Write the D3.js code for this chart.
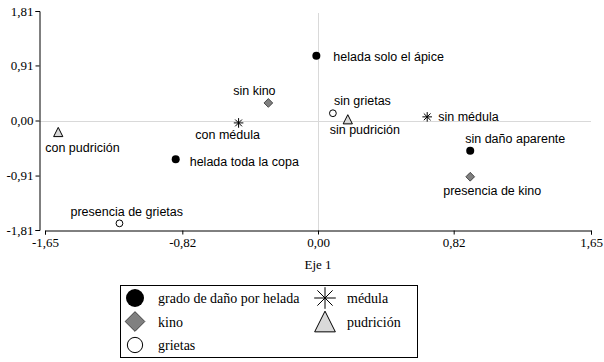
<!DOCTYPE html>
<html>
<head>
<meta charset="utf-8">
<script src="https://cdnjs.cloudflare.com/ajax/libs/d3/7.8.5/d3.min.js"></script>
<style>
  body { margin: 0; background: #fff; }
  .tick text { font-family: "Liberation Serif", "Times New Roman", serif; font-size: 13px; fill: #000; }
  .lbl { font-family: "Liberation Sans", Arial, sans-serif; font-size: 12.5px; fill: #000; }
  .ttl { font-family: "Liberation Serif", "Times New Roman", serif; font-size: 13px; fill: #000; }
  .leg { font-family: "Liberation Serif", "Times New Roman", serif; font-size: 14px; fill: #000; }
</style>
</head>
<body>
<div class="box"></div>
<script>
// Data
const etiquetas = ["helada solo el ápice", "sin kino", "con médula", "sin grietas", "sin pudrición",
                   "sin médula", "sin daño aparente", "presencia de kino", "con pudrición",
                   "helada toda la copa", "presencia de grietas"];
const eje1 = [-0.01, -0.30, -0.48, 0.09, 0.18, 0.66, 0.92, 0.92, -1.57, -0.86, -1.20];
const eje2 = [1.07, 0.29, -0.04, 0.12, 0.02, 0.06, -0.50, -0.93, -0.19, -0.64, -1.70];
const grupo = ["helada", "kino", "medula", "grietas", "pudricion",
               "medula", "helada", "kino", "pudricion", "helada", "grietas"];
const xTicks = [-1.65, -0.82, 0, 0.82, 1.65];
const yTicks = [-1.81, -0.91, 0, 0.91, 1.81];
const grupos = ["helada", "kino", "grietas", "medula", "pudricion"];
const gruposNombre = ["grado de daño por helada", "kino", "grietas", "médula", "pudrición"];

// label placement (pixels relative to the point)
const labelDx = [17, -14, -11, 1, 17, 11, -5, -27, -13, 14, -49];
const labelDy = [5, -8, 16, -8, 15, 4, -8, 18, 20, 7, -7];
const labelAnchor = ["start", "middle", "middle", "start", "middle", "start", "start", "start", "start", "start", "start"];

const w = 604, h = 362;
const svg = d3.select(".box").append("svg").attr("width", w).attr("height", h);

const xScale = d3.scaleLinear().domain([-1.65, 1.65]).range([45, 591]);
const yScale = d3.scaleLinear().domain([-1.81, 1.81]).range([230, 11]);

const loc = d3.formatLocale({decimal: ",", thousands: ".", grouping: [3], currency: ["", ""], minus: "-"});
const fmt = loc.format(".2f");

// grid lines at zero
svg.append("line").attr("x1", 39).attr("x2", 591)
  .attr("y1", Math.round(yScale(0)) + 0.5).attr("y2", Math.round(yScale(0)) + 0.5)
  .attr("stroke", "#d9d9d9");
svg.append("line").attr("x1", Math.round(xScale(0)) + 0.5).attr("x2", Math.round(xScale(0)) + 0.5)
  .attr("y1", 13).attr("y2", 230).attr("stroke", "#d9d9d9");

// axes
const xAxis = d3.axisBottom(xScale).tickValues(xTicks).tickFormat(fmt).tickSizeOuter(0).tickSize(4).tickPadding(3);
const yAxis = d3.axisLeft(yScale).tickValues(yTicks).tickFormat(fmt).tickSizeOuter(0).tickSize(4).tickPadding(2);

svg.append("g").attr("transform", "translate(0,230.5)").call(xAxis)
  .call(g => g.select(".domain").attr("stroke", "#000"));
svg.append("g").attr("transform", "translate(39.5,0)").call(yAxis)
  .call(g => g.select(".domain").attr("stroke", "#000"));

svg.append("text").attr("class", "ttl").attr("x", 318).attr("y", 269)
  .attr("text-anchor", "middle").text("Eje 1");

// marker drawing
function drawMarker(g, tipo, s) {
  if (tipo === "helada") {
    g.append("circle").attr("r", s).attr("fill", "#000");
  } else if (tipo === "grietas") {
    g.append("circle").attr("r", s * 0.85).attr("fill", "#fff").attr("stroke", "#000");
  } else if (tipo === "kino") {
    const d = s * 1.1;
    g.append("path").attr("d", `M0,${-d}L${d},0L0,${d}L${-d},0Z`)
      .attr("fill", "#808080").attr("stroke", "#000").attr("stroke-width", 0.6);
  } else if (tipo === "pudricion") {
    const d = s * 1.15;
    g.append("path").attr("d", `M0,${-d}L${d},${d}L${-d},${d}Z`)
      .attr("fill", "#d9d9d9").attr("stroke", "#000").attr("stroke-width", 1);
  } else if (tipo === "medula") {
    const d = s * 1.2;
    [0, 45, 90, 135].forEach(a => {
      const r = a * Math.PI / 180;
      g.append("line").attr("x1", -d * Math.cos(r)).attr("y1", -d * Math.sin(r))
        .attr("x2", d * Math.cos(r)).attr("y2", d * Math.sin(r))
        .attr("stroke", "#000").attr("stroke-width", 1);
    });
  }
}

// points
const pts = svg.selectAll("g.pt").data(etiquetas).enter().append("g")
  .attr("class", "pt")
  .attr("transform", (d, i) => `translate(${xScale(eje1[i])},${yScale(eje2[i])})`);
pts.each(function(d, i) { drawMarker(d3.select(this), grupo[i], 4); });
pts.append("text").attr("class", "lbl")
  .attr("x", (d, i) => labelDx[i]).attr("y", (d, i) => labelDy[i])
  .attr("text-anchor", (d, i) => labelAnchor[i])
  .text(d => d);

// legend
const legend = svg.append("g").attr("id", "legend");
legend.append("rect").attr("x", 120.5).attr("y", 285.5).attr("width", 297).attr("height", 72)
  .attr("fill", "#fff").attr("stroke", "#000");

const leg = legend.selectAll("g.item").data(grupos).enter().append("g")
  .attr("class", "item")
  .attr("transform", (d, i) => i < 3 ? `translate(135,${298 + i * 23.5})` : `translate(325,${298 + (i - 3) * 23.5})`);
leg.each(function(d) { drawMarker(d3.select(this), d, 9); });
leg.append("text").attr("class", "leg").attr("x", (d, i) => i < 3 ? 23 : 22).attr("y", 5)
  .text((d, i) => gruposNombre[i]);
</script>
</body>
</html>
